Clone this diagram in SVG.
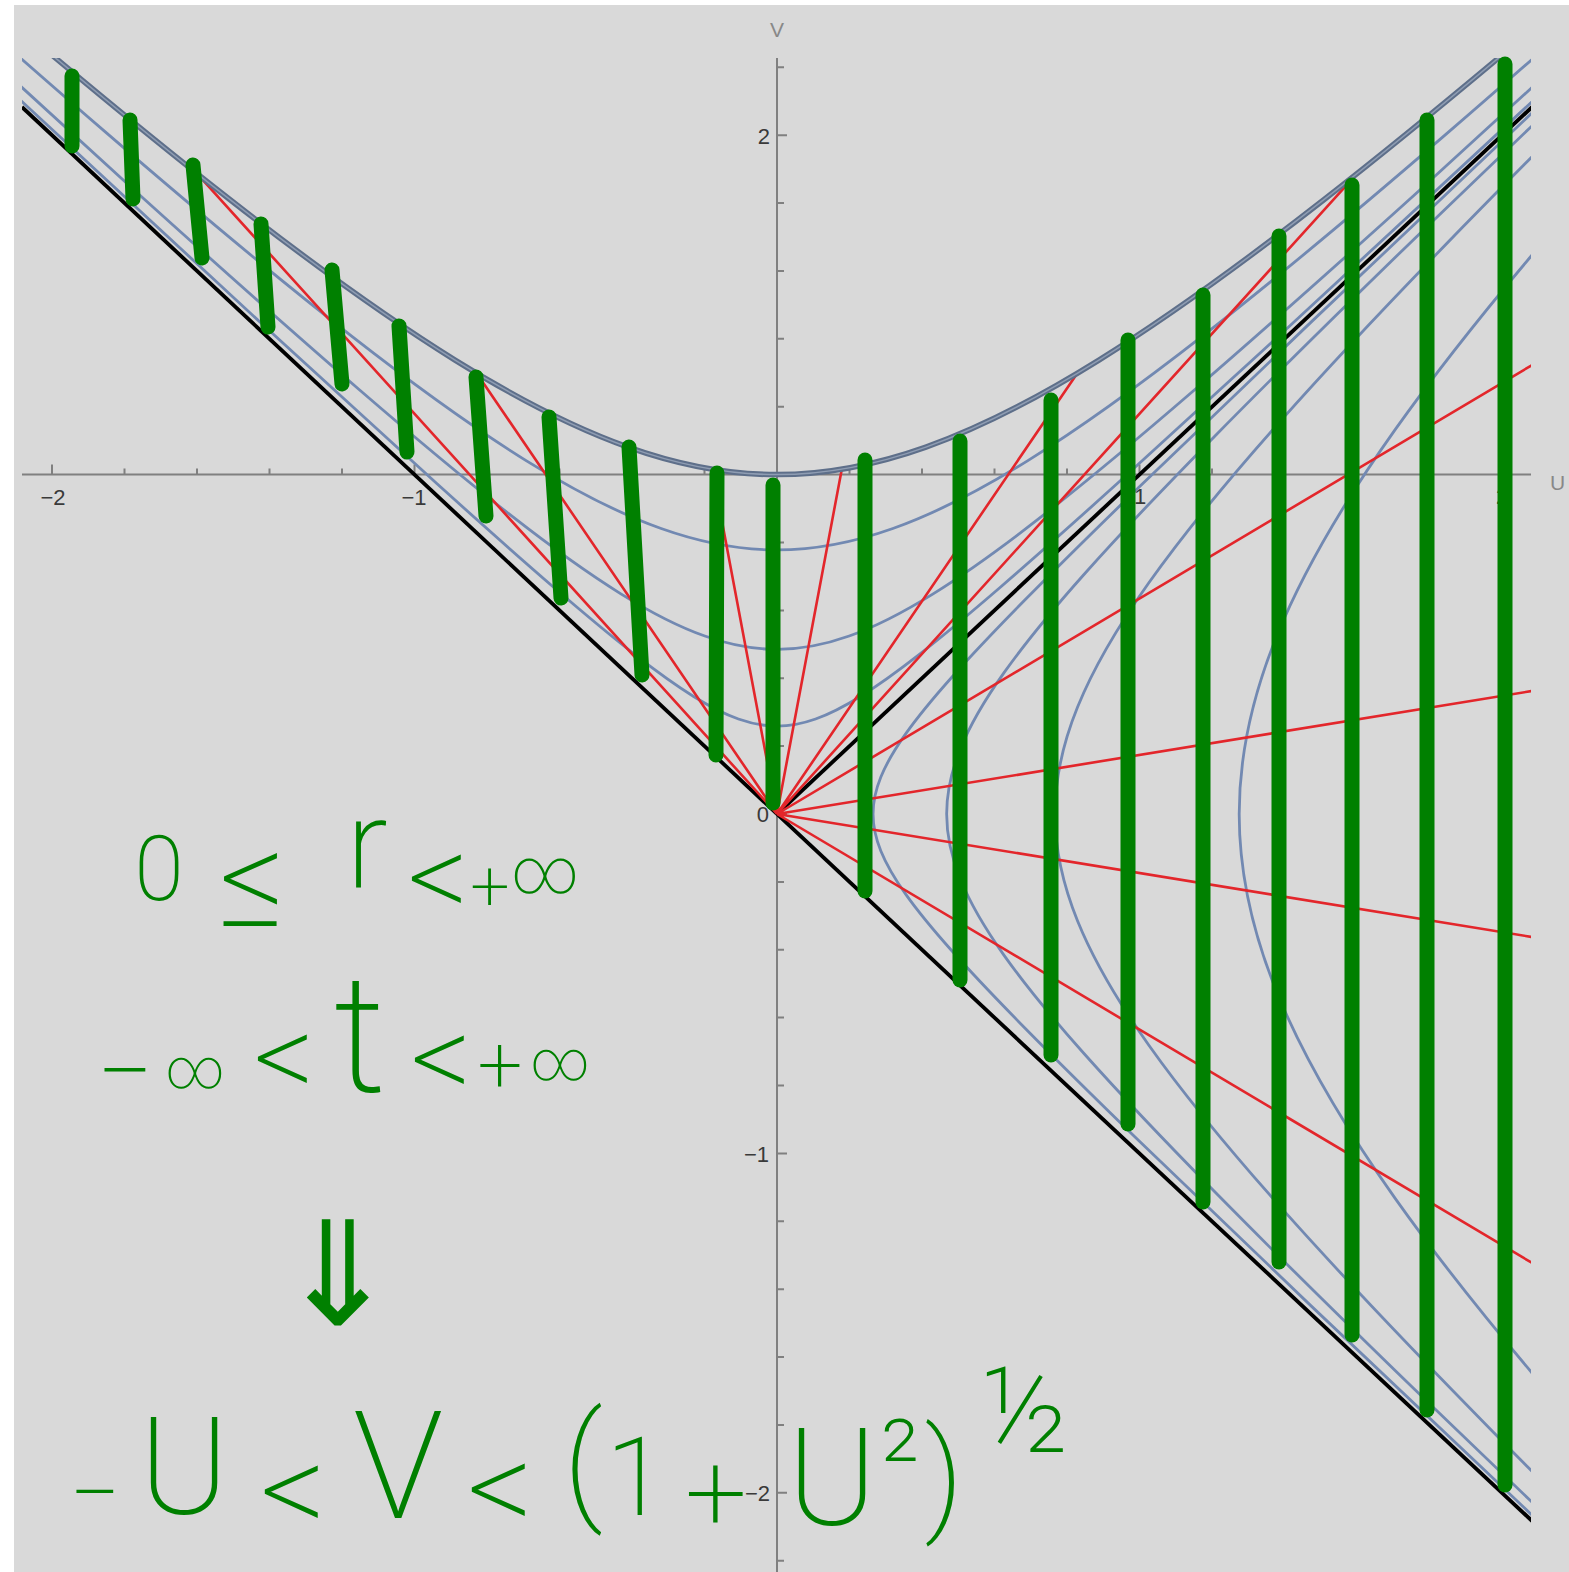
<svg xmlns="http://www.w3.org/2000/svg" width="1569" height="1572" viewBox="0 0 1569 1572">
<style>
.ax{stroke:#808080;stroke-width:2;fill:none}
.tl{font-family:"Liberation Sans",Arial,sans-serif;font-size:22px;fill:#3a3a3a}
.al{font-family:"Liberation Sans",Arial,sans-serif;font-size:21px;fill:#888}
.thin{stroke:#7289b2;stroke-width:2.8;fill:none}
.red{stroke:#e3262b;stroke-width:2.6;fill:none}
.blk{stroke:#000;stroke-width:3.8;fill:none}
.grn{stroke:#008000;stroke-width:15;stroke-linecap:round;fill:none}
.hw{font-family:Roboto,"Open Sans","DejaVu Sans",sans-serif;font-weight:200;fill:#008000;text-anchor:middle}
</style>
<defs>
<clipPath id="plot"><rect x="22" y="58" width="1509" height="1514"/></clipPath>
<path id="hyp" fill="none" vector-effect="non-scaling-stroke" d="M -12.245884 12.286646 C -10.607665 10.653861 -9.292282 9.344984 -8.191918 8.252728 C -7.091554 7.160472 -6.207155 6.285778 -5.466229 5.556947 C -4.725303 4.828116 -4.128486 4.245777 -3.626860 3.762196 C -3.125234 3.278615 -2.719230 2.894206 -2.375568 2.577464 C -2.031906 2.260722 -1.750882 2.011917 -1.509461 1.810656 C -1.268040 1.609395 -1.066431 1.455849 -0.888106 1.337435 C -0.709781 1.219021 -0.554895 1.135839 -0.410752 1.081072 C -0.266609 1.026305 -0.133333 1 0 1 C 0.133333 1 0.266609 1.026305 0.410752 1.081072 C 0.554895 1.135839 0.709781 1.219021 0.888106 1.337435 C 1.066431 1.455849 1.268040 1.609395 1.509461 1.810656 C 1.750882 2.011917 2.031906 2.260722 2.375568 2.577464 C 2.719230 2.894206 3.125234 3.278615 3.626860 3.762196 C 4.128486 4.245777 4.725303 4.828116 5.466229 5.556947 C 6.207155 6.285778 7.091554 7.160472 8.191918 8.252728 C 9.292282 9.344984 10.607665 10.653861 12.245884 12.286646"/>
</defs>
<rect x="0" y="0" width="1569" height="1572" fill="#ffffff"/>
<rect x="14" y="5" width="1555" height="1567" fill="#d9d9d9"/>

<g id="axes">
<path class="ax" d="M22 474.6 H1531 M777 58 V1572"/>
<path class="ax" d="M52 474.6 v-10 M414.5 474.6 v-10 M1139.5 474.6 v-10 M1502 474.6 v-10 M124.5 474.6 v-6 M197 474.6 v-6 M269.5 474.6 v-6 M342 474.6 v-6 M487 474.6 v-6 M559.5 474.6 v-6 M632 474.6 v-6 M704.5 474.6 v-6 M849.5 474.6 v-6 M922 474.6 v-6 M994.5 474.6 v-6 M1067 474.6 v-6 M1212 474.6 v-6 M1284.5 474.6 v-6 M1357 474.6 v-6 M1429.5 474.6 v-6"/>
<path class="ax" d="M777 135.2 h10 M777 814 h10 M777 1153.4 h10 M777 1492.8 h10 M777 67.3 h7 M777 203.1 h7 M777 271 h7 M777 338.8 h7 M777 406.7 h7 M777 542.5 h7 M777 610.4 h7 M777 678.2 h7 M777 746.1 h7 M777 881.9 h7 M777 949.8 h7 M777 1017.6 h7 M777 1085.5 h7 M777 1221.3 h7 M777 1289.2 h7 M777 1357 h7 M777 1424.9 h7 M777 1560.7 h7"/>
<g class="tl" text-anchor="middle">
<text x="53" y="505">−2</text>
<text x="414" y="505">−1</text>
<text x="1140" y="504">1</text>
<text x="1502" y="504">2</text>
</g>
<g class="tl" text-anchor="end">
<text x="770" y="144">2</text>
<text x="769" y="822">0</text>
<text x="769" y="1162">−1</text>
<text x="770" y="1501">−2</text>
</g>
<text class="al" x="777" y="37" text-anchor="middle">V</text>
<text class="al" x="1550" y="490">U</text>
</g>

<g id="plot-curves" clip-path="url(#plot)">
<g id="const-r-curves" class="thin">
<use href="#hyp" vector-effect="non-scaling-stroke" transform="matrix(282.03 0 0 -264.05 777 814)"/>
<use href="#hyp" vector-effect="non-scaling-stroke" transform="matrix(175.81 0 0 -164.61 777 814)"/>
<use href="#hyp" vector-effect="non-scaling-stroke" transform="matrix(93.89 0 0 -87.90 777 814)"/>
<use href="#hyp" vector-effect="non-scaling-stroke" transform="matrix(0 -89.94 96.06 0 777 814)"/>
<use href="#hyp" vector-effect="non-scaling-stroke" transform="matrix(0 -158.84 169.65 0 777 814)"/>
<use href="#hyp" vector-effect="non-scaling-stroke" transform="matrix(0 -260.32 278.04 0 777 814)"/>
<use href="#hyp" vector-effect="non-scaling-stroke" transform="matrix(0 -432.74 462.19 0 777 814)"/>
</g>
<g id="horizons" class="blk">
<path d="M21.9 107 L1532.1 1521"/>
<path d="M777 814 L1532.1 107"/>
</g>
<g id="const-t-rays" class="red">
<path d="M777 814 L841.8 469.2 M777 814 L712.2 469.2 M777 814 L1077.3 373.2 M777 814 L476.7 373.2 M777 814 L1357 173.6 M777 814 L197 173.6"/>
<path d="M777 814 L1532 365.1 M777 814 L1532 1262.9 M777 814 L1532 691 M777 814 L1532 937"/>
</g>
<g id="singularity">
<use href="#hyp" vector-effect="non-scaling-stroke" stroke="#5e6f8a" stroke-width="5.5" transform="matrix(362.5 0 0 -339.4 777 814)"/>
<use href="#hyp" vector-effect="non-scaling-stroke" stroke="#8f9db3" stroke-width="1.5" transform="matrix(362.5 0 0 -339.4 777 814)"/>
</g>
</g>

<g id="green-marks" class="grn">
<path d="M72 76 L72 146"/>
<path d="M130 120 L133 199"/>
<path d="M193 165 L202 258"/>
<path d="M261 224 L268 327"/>
<path d="M332 270 L342 384"/>
<path d="M399 326 L407 452"/>
<path d="M476 377 L486 516"/>
<path d="M549 417 L561 598"/>
<path d="M629 447 L642 675"/>
<path d="M717 473 L716 755"/>
<path d="M773 485 L773 803"/>
<path d="M865 460 L865 891"/>
<path d="M960 441 L960 980"/>
<path d="M1051 400 L1051 1055"/>
<path d="M1128 340 L1128 1124"/>
<path d="M1203 295 L1203 1202"/>
<path d="M1279 236 L1279 1262"/>
<path d="M1352 185 L1352 1335"/>
<path d="M1427 120 L1427 1410"/>
<path d="M1505 64 L1505 1485"/>
</g>

<g id="handwriting" class="hw">
<text id="range-r"><tspan x="159" y="900" font-size="90">0</tspan><tspan x="252" y="926" font-size="130">≤</tspan><tspan x="367" y="887" font-size="125">r</tspan><tspan x="438" y="918" font-size="120">&lt;</tspan><tspan x="490" y="910" font-size="70">+</tspan><tspan x="545" y="893" font-size="64">∞</tspan></text>
<text id="range-t"><tspan x="125" y="1106" font-size="100">−</tspan><tspan x="195" y="1088" font-size="56">∞</tspan><tspan x="284" y="1098" font-size="120">&lt;</tspan><tspan x="360" y="1091" font-size="165">t</tspan><tspan x="441" y="1099" font-size="120">&lt;</tspan><tspan x="500" y="1092" font-size="80">+</tspan><tspan x="560" y="1080" font-size="56">∞</tspan></text>
<text id="implies" x="338" y="1325" font-size="145">⇓</text>
<text id="range-V"><tspan x="95" y="1524" font-size="90">−</tspan><tspan x="184" y="1514" font-size="135">U</tspan><tspan x="293" y="1534" font-size="130">&lt;</tspan><tspan x="398" y="1518" font-size="150">V</tspan><tspan x="500" y="1532" font-size="130">&lt;</tspan><tspan x="583" y="1506" font-size="130">(</tspan><tspan x="636" y="1515" font-size="110">1</tspan><tspan x="716" y="1530" font-size="110">+</tspan><tspan x="832" y="1525" font-size="135">U</tspan><tspan x="900" y="1497" font-size="110">²</tspan><tspan x="944" y="1518" font-size="125">)</tspan><tspan x="1025" y="1452" font-size="120">½</tspan></text>
</g>
</svg>
